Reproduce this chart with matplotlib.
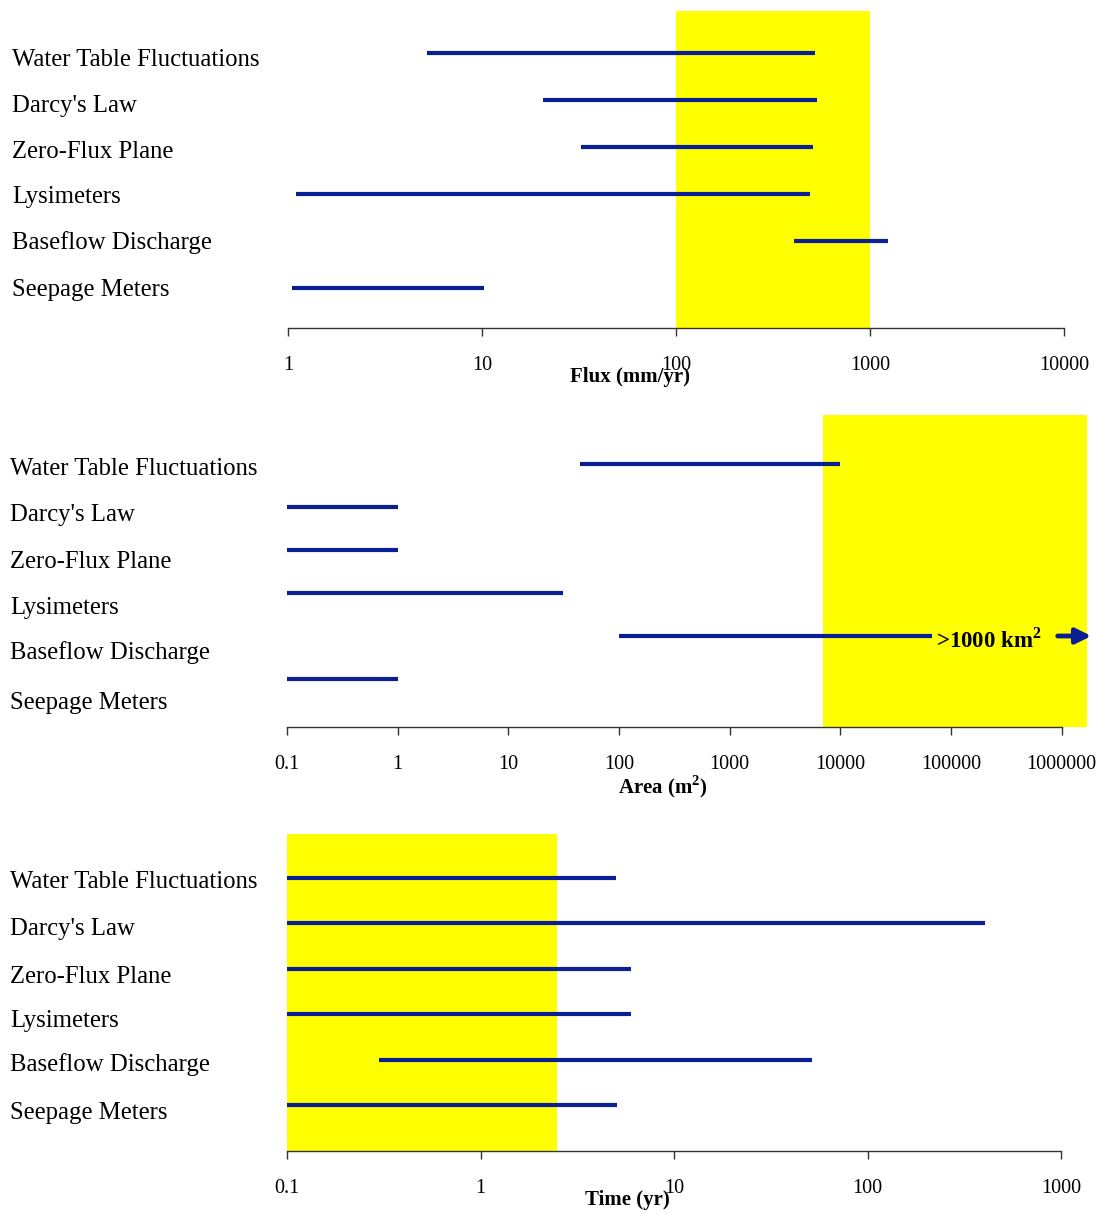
import matplotlib
matplotlib.use('Agg')
import matplotlib.pyplot as plt
import numpy as np

# method names, same order in every panel
methods = ['Water Table Fluctuations', "Darcy's Law", 'Zero-Flux Plane',
           'Lysimeters', 'Baseflow Discharge', 'Seepage Meters']

# applicable ranges: flux (mm/yr)
flux_lo = [5.2, 20.6, 32.4, 1.1, 406, 1.05]
flux_hi = [520, 533, 508, 491, 1239, 10.2]
flux_band = [100, 1000]

# applicable ranges: area (m2)
area_lo = [44, 0.1, 0.1, 0.1, 100, 0.1]
area_hi = [9900, 1, 1, 31, 67000, 1]
area_band = [6950, 1.69e6]

# applicable ranges: time (yr)
time_lo = [0.1, 0.1, 0.1, 0.1, 0.3, 0.1]
time_hi = [5, 405, 6, 6, 51.7, 5.07]
time_band = [0.1, 2.48]

W, H = 1103, 1214
plt.rcParams['font.family'] = 'Liberation Serif'
plt.rcParams['mathtext.fontset'] = 'custom'
plt.rcParams['mathtext.rm'] = 'Liberation Serif'
plt.rcParams['mathtext.bf'] = 'Liberation Serif:bold'
fig = plt.figure(figsize=(W / 100, H / 100), dpi=100)
blue = '#0A1E96'
yellow = '#FFFF00'


def px_axes(x0, x1, y0, y1):
    # pixel box -> figure axes
    return fig.add_axes([x0 / W, 1 - y1 / H, (x1 - x0) / W, (y1 - y0) / H])


def panel(ax, lo, hi, band, xlim, spine_lim, ticks, ticklabels, ylim, xlabel,
          label_px, label_x, xlabel_px):
    ax.set_xscale('log')
    ax.set_xlim(*xlim)
    ax.set_ylim(*ylim)
    ax.axvspan(band[0], band[1], color=yellow, zorder=0, lw=0)
    for i in range(len(lo)):
        ax.plot([lo[i], hi[i]], [i, i], color=blue, lw=3.0,
                solid_capstyle='butt', zorder=3)
    for s in ['left', 'right', 'top']:
        ax.spines[s].set_visible(False)
    ax.spines['bottom'].set_bounds(*spine_lim)
    ax.spines['bottom'].set_color('#333333')
    ax.spines['bottom'].set_linewidth(1.0)
    ax.set_yticks([])
    ax.set_xticks(ticks)
    ax.set_xticklabels(ticklabels)
    ax.xaxis.set_minor_locator(matplotlib.ticker.NullLocator())
    ax.tick_params(axis='x', direction='out', length=6, width=1.0,
                   color='#333333', labelsize=14.5, pad=14)
    for name, yp in zip(methods, label_px):
        fig.text(label_x / W, 1 - (yp + 3) / H, name, fontsize=17.8,
                 ha='left', va='center')
    fig.text(xlabel_px[0] / W, 1 - xlabel_px[1] / H, xlabel, fontsize=15,
             fontweight='bold', ha='center', va='center')


# flux panel
ax1 = px_axes(288, 1064, 11, 328)
panel(ax1, flux_lo, flux_hi, flux_band, (1, 10000), (1, 10000),
      [1, 10, 100, 1000, 10000], ['1', '10', '100', '1000', '10000'],
      (5 + 40 / 47, -42 / 47), 'Flux (mm/yr)',
      [57, 103, 149, 194, 240, 287], 12, (630, 377))

# area panel
ax2 = px_axes(287, 1090, 415, 727)
panel(ax2, area_lo, area_hi, area_band, (0.1, 1.8e6), (0.1, 1e6),
      [0.1, 1, 10, 100, 1000, 10000, 100000, 1000000],
      ['0.1', '1', '10', '100', '1000', '10000', '100000', '1000000'],
      (5 + 48 / 43, -49 / 43), r'Area (m$^\mathbf{2}$)',
      [466, 512, 559, 605, 650, 700], 10, (663, 787))
ax2.text(2.2e5, 4.1, r'>1000 km$^\mathbf{2}$', fontsize=16.5, fontweight='bold',
         ha='center', va='center', zorder=4)
ax2.annotate('', xy=(1.85e6, 4), xytext=(9.2e5, 4),
             arrowprops=dict(arrowstyle='-|>,head_length=0.9,head_width=0.45',
                             color=blue, lw=3.5, shrinkA=0, shrinkB=0),
             annotation_clip=False)

# time panel
ax3 = px_axes(287, 1061, 834, 1151)
panel(ax3, time_lo, time_hi, time_band, (0.1, 1000), (0.1, 1000),
      [0.1, 1, 10, 100, 1000], ['0.1', '1', '10', '100', '1000'],
      (5 + 46 / 45.4, -44 / 45.4), 'Time (yr)',
      [879, 926, 974, 1018, 1062, 1110], 10, (627, 1200))

fig.savefig('out.png', dpi=100)
